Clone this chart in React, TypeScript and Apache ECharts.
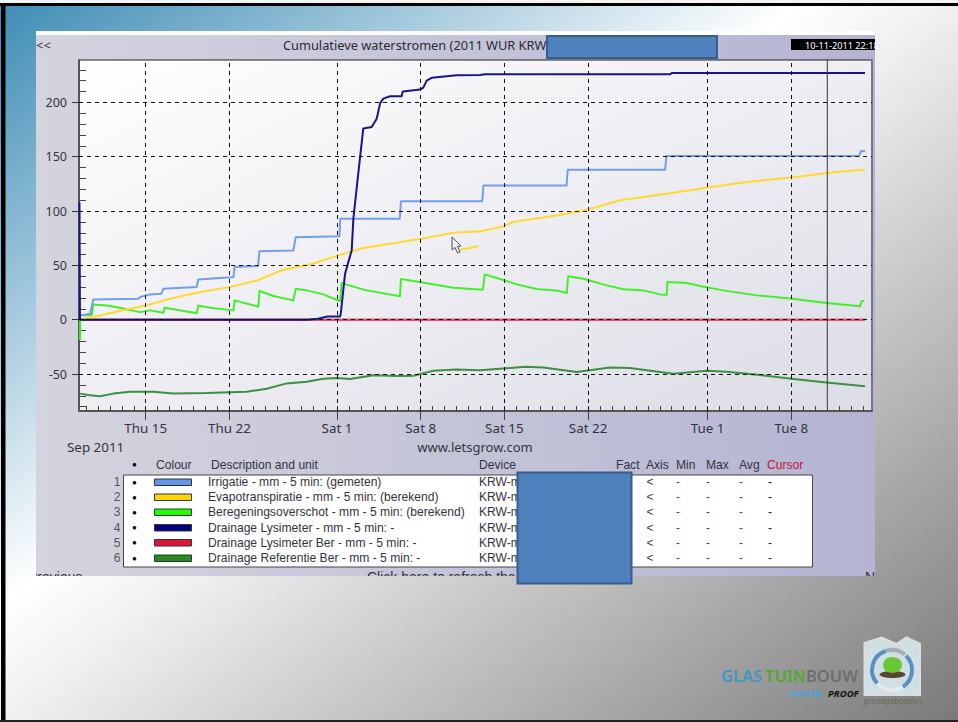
import React, { useEffect, useRef } from "react";
import * as echarts from "echarts";

const W = 958;
const H = 722;

// Days are counted from 1 Sep 2011 = day 1 (1 Oct = 31, 1 Nov = 62).
const X_MIN = 9.42;
const X_MAX = 75.75;
const Y_MIN = -84;
const Y_MAX = 239;

const xMajorDays = [15, 22, 31, 38, 45, 52, 62, 69];
const xMajorLabels = ["Thu 15", "Thu 22", "Sat 1", "Sat 8", "Sat 15", "Sat 22", "Tue 1", "Tue 8"];
const xMinorDays = Array.from({ length: 66 }, (_, i) => 10 + i);
const yMajor = [-50, 0, 50, 100, 150, 200];
const yMinor = [-80, -70, -60, -40, -30, -20, -10, 10, 20, 30, 40, 60, 70, 80, 90, 110, 120, 130, 140, 160, 170, 180, 190, 210, 220, 230];

const irrigatie = [
  [9.51, 4], [10.35, 5.5], [10.62, 18.7], [14.4, 19.3], [14.55, 21], [15.36, 23.3], [16.3, 24], [16.48, 28.5], [19.25, 30], [19.4, 37],
  [21.2, 38.3], [22.33, 39], [22.44, 48.5], [24.4, 49.4], [24.51, 63], [27.35, 63.6], [27.55, 76], [31.2, 76.7], [31.28, 93],
  [36.25, 93], [36.35, 109], [43.15, 109], [43.25, 123.4], [50.2, 123.4], [50.3, 138], [58.45, 138], [58.55, 150.7],
  [74.67, 150.7], [74.85, 155.3], [75.17, 155.3],
];
const evapotranspiratie = [
  [9.51, 0], [10.6, 2.5], [12.8, 8], [15, 13], [17.03, 19.3], [19.27, 24.8], [22, 30], [24.28, 36], [26.5, 46], [29, 51.5], [31.03, 59],
  [33.2, 66], [38.06, 74.5], [40.73, 80], [42.96, 81.4], [45, 86], [45.72, 90], [49.38, 96], [52, 101.4], [54.67, 110], [58.58, 116],
  [62.03, 121.6], [65.27, 126.8], [69.03, 130.8], [71.96, 135], [74.47, 137.5], [75.17, 137.7],
];
const evapotranspiratieCursor = [[41.29, 64.5], [42.13, 66], [42.82, 67.8]];
const beregeningsoverschot = [
  [9.51, -19], [9.51, 4], [10.48, 4], [10.62, 14], [11.74, 13], [12.85, 11], [13.69, 9], [14.53, 7], [15.36, 8.6], [16.48, 6.4], [16.56, 11],
  [17.59, 9.2], [19.27, 6], [19.4, 13], [20.38, 11], [22.33, 8.6], [22.44, 17.8], [24.42, 12], [24.51, 26.4], [25.68, 21.8], [27.35, 17.8],
  [27.55, 28.5], [28.47, 27], [29.86, 23.3], [31.25, 17], [31.39, 33.7], [32.5, 30], [33.48, 27], [36.27, 21.5], [36.35, 37.4], [37.39, 35.6],
  [38.78, 33], [40.73, 29.4], [43.2, 27.6], [43.36, 41.7], [44.78, 37], [46.03, 32.5], [47.7, 28.2], [49.51, 26.7], [50.22, 24.5], [50.33, 40],
  [51.6, 37.7], [53.56, 31.6], [54.95, 28], [56.62, 27], [58.02, 23.3], [58.58, 23], [58.63, 34.7], [60.25, 33.7], [61.37, 31], [63.31, 27],
  [66.11, 22.4], [68.89, 19.6], [71.96, 15.3], [74.75, 12.3], [74.89, 17.2], [75.11, 17.2],
];
const drainageLysimeter = [
  [9.46, 108], [9.5, 0], [28.5, 0], [29.4, 1], [30.2, 3], [31.25, 3], [31.31, 5], [31.67, 42], [32.23, 64], [32.37, 93], [32.78, 134.6],
  [33.2, 176], [33.9, 177.4], [34.32, 185], [34.6, 199], [34.87, 203.5], [35.44, 205.6], [36.41, 205.6], [36.5, 210], [37.94, 211.8], [38.22, 213.6],
  [38.5, 220], [38.92, 222.6], [41.01, 224.9], [42.96, 225.2], [43.38, 225.8], [58.88, 225.8], [59, 227], [75.17, 227],
];
const drainageLysimeterBer = [[9.42, 0], [75.17, 0]];
const drainageReferentieBer = [
  [9.51, -68], [10.34, -69.6], [11.18, -70.5], [12.3, -68], [13.69, -66.3], [15.64, -66.3], [17.31, -67.8], [20.1, -67.5], [23.45, -66.3],
  [25.12, -63.5], [26.79, -58.6], [28.47, -57], [29.86, -54.3], [30.97, -53.7], [32.09, -54.6], [34.04, -51.2], [35.99, -51.8], [37.39, -51.5],
  [39.06, -47], [41.01, -45.7], [42.96, -46.6], [44.91, -45], [46.73, -43.3], [48.26, -43.9], [51.05, -48.2], [53.84, -43.9], [55.51, -44.5],
  [59.13, -49.7], [61.93, -46.9], [63.6, -47.9], [66.39, -50.9], [69, -54.3], [71.96, -57.7], [75.17, -61.3],
];
const cursorLine = [[72.01, 239], [72.01, -79.3]];

const legendNames = [
  "Irrigatie - mm - 5 min: (gemeten)",
  "Evapotranspiratie - mm - 5 min: (berekend)",
  "Beregeningsoverschot - mm - 5 min: (berekend)",
  "Drainage Lysimeter - mm - 5 min: -",
  "Drainage Lysimeter Ber - mm - 5 min: -",
  "Drainage Referentie Ber - mm - 5 min: -",
];
const legendSwatches = ["#6495ed", "#ffd700", "#22ff00", "#000080", "#dc143c", "#228b22"];
const legendRowY = [482, 497, 512, 527.5, 542.5, 558];

const SANS = "'Noto Sans', sans-serif";
const ARIAL = "'Liberation Sans', Arial, sans-serif";
const INK = "#333340";

function slideFill() {
  const a = 1 / (2 * W);
  const b = 1 / (2 * H);
  const n = a * a + b * b;
  return new echarts.graphic.LinearGradient(
    0, 0, a / n, b / n,
    [
      { offset: 0, color: "#3d8cb5" },
      { offset: 0.42, color: "#ffffff" },
      { offset: 0.5, color: "#f0f0f0" },
      { offset: 1, color: "#7a7a7a" },
    ],
    true
  );
}

function txt(text: string, x: number, y: number, opts: any = {}) {
  const { fill = INK, font = `12.1px ${ARIAL}`, align = "left", z = 5 } = opts;
  return {
    type: "text",
    z,
    silent: true,
    style: { text, x, y, fill, font, align, verticalAlign: "middle" },
  };
}
function box(x: number, y: number, w: number, h: number, fill: any, z: number, stroke?: string, lineWidth = 0) {
  return { type: "rect", z, silent: true, shape: { x, y, width: w, height: h }, style: { fill, stroke, lineWidth } };
}

function buildGraphic() {
  const els: any[] = [];
  // slide
  els.push(box(0, 0, W, H, slideFill(), -20));
  // screenshot panel
  els.push(box(36, 31, 839, 5, "#ffffff", -19));
  els.push(box(36, 35, 839, 541, new echarts.graphic.LinearGradient(0, 0, 1, 0, [
    { offset: 0, color: "#d4d4de" },
    { offset: 1, color: "#b4b4d2" },
  ]), -19));

  els.push(txt("<<", 36, 45, { font: `13px ${SANS}` }));
  els.push(txt("Cumulatieve waterstromen (2011 WUR KRW", 283, 45, { font: `12.8px ${SANS}`, fill: "#2a2a33" }));
  els.push(box(791, 39, 84, 11, "#000000", 5));
  els.push(txt("10-11-2011 22:18", 805, 45, { font: `9.2px ${SANS}`, fill: "#ffffff", z: 6 }));

  els.push(txt("Sep 2011", 67, 447, { font: `13.4px ${SANS}` }));
  els.push(txt("www.letsgrow.com", 475, 447, { font: `13px ${SANS}`, align: "center" }));

  // legend header
  els.push(txt("●", 134.5, 464.5, { align: "center", font: `8px ${ARIAL}`, fill: "#000" }));
  els.push(txt("Colour", 156, 464.5));
  els.push(txt("Description and unit", 211, 464.5));
  els.push(txt("Device", 479, 464.5));
  els.push(txt("Fact", 616, 464.5));
  els.push(txt("Axis", 646, 464.5));
  els.push(txt("Min", 676, 464.5));
  els.push(txt("Max", 706, 464.5));
  els.push(txt("Avg", 739, 464.5));
  els.push(txt("Cursor", 767, 464.5, { fill: "#c0103a" }));

  // legend table
  els.push(box(123.5, 475, 689, 92, "#ffffff", 1, "#444444", 1));
  legendNames.forEach((name, i) => {
    const y = legendRowY[i];
    els.push(txt(String(i + 1), 120.5, y, { align: "right", fill: "#555" }));
    els.push(txt("●", 134.5, y, { align: "center", font: `8px ${ARIAL}`, fill: "#000" }));
    els.push(box(154.5, y - 3, 37, 6.5, legendSwatches[i], 5, "#333333", 1));
    els.push(txt(name, 208, y));
    els.push(txt("KRW-m", 479, y));
    els.push(txt("<", 650, y, { align: "center", fill: "#444" }));
    els.push(txt("-", 678, y, { align: "center", fill: "#c0103a" }));
    els.push(txt("-", 708, y, { align: "center", fill: "#c0103a" }));
    els.push(txt("-", 741, y, { align: "center", fill: "#c0103a" }));
    els.push(txt("-", 770, y, { align: "center", fill: "#222" }));
  });

  // clipped footer row of the screenshot
  const footFont = `14px ${ARIAL}`;
  els.push(txt("Previous", 28, 576.5, { font: footFont }));
  els.push(txt("Click here to refresh the", 367, 576.5, { font: footFont }));
  els.push(txt("N", 865, 576.5, { font: footFont }));

  // parts of the slide covering what the screenshot cuts off
  els.push(box(0, 576, W, 20, slideFill(), 50));
  els.push(box(0, 560, 36, 30, slideFill(), 50));
  els.push(box(875, 36, 30, 20, slideFill(), 50));
  els.push(box(875, 560, 30, 20, slideFill(), 50));

  // redactions
  els.push(box(547, 36, 170, 22, "#4f81bd", 60, "#385d8a", 2));
  els.push(box(517.5, 472.5, 114, 111, "#4f81bd", 60, "#385d8a", 2));

  // mouse arrow
  els.push({
    type: "polygon", z: 20, silent: true,
    shape: { points: [[452, 237], [452, 250], [455, 247.5], [457.5, 253], [460, 252], [457.5, 246.5], [461, 246]] },
    style: { fill: "#eeeeee", stroke: "#555555", lineWidth: 1 },
  });

  // frame
  els.push(box(0, 0, W, 3, "#f4f4f4", 70));
  els.push(box(0, 3, W, 3, "#000000", 71));
  els.push(box(1, 3, 4.5, H - 3, "#000000", 71));
  els.push(box(0, 720, W, 2, "#222222", 71));

  // logo
  const logoFont = `600 16.5px ${SANS}`;
  els.push(txt("GLAS", 721, 675, { font: logoFont, fill: "#3f97c2", z: 30 }));
  els.push(txt("TUIN", 765, 675, { font: logoFont, fill: "#57a632", z: 30 }));
  els.push(txt("BOUW", 806, 675, { font: logoFont, fill: "#6e6e6e", z: 30 }));
  els.push(txt("WATER", 789.5, 693, { font: `bold 9.5px ${SANS}`, fill: "#4aa5d6", z: 30 }));
  els.push(txt("PROOF", 828, 693, { font: `italic bold 9.5px ${SANS}`, fill: "#111111", z: 30 }));
  els.push({
    type: "polygon", z: 30, silent: true,
    shape: { points: [[864.5, 643], [881.5, 637.5], [896.5, 644], [906.5, 637.5], [920, 644], [920, 695], [864.5, 695]] },
    style: { fill: "#cfe0e5", stroke: "#dddddd", lineWidth: 2 },
  });
  els.push({ type: "arc", z: 31, silent: true, shape: { cx: 892, cy: 670, r: 20, startAngle: 2.4, endAngle: 4.4 }, style: { stroke: "#5b8fc0", fill: "none", lineWidth: 4 } });
  els.push({ type: "arc", z: 31, silent: true, shape: { cx: 892, cy: 670, r: 20, startAngle: -0.8, endAngle: 1.0 }, style: { stroke: "#5b8fc0", fill: "none", lineWidth: 4 } });
  els.push({ type: "arc", z: 31, silent: true, shape: { cx: 892, cy: 670, r: 20, startAngle: 4.4, endAngle: 5.4 }, style: { stroke: "#a8adb0", fill: "none", lineWidth: 4 } });
  els.push({ type: "arc", z: 31, silent: true, shape: { cx: 892, cy: 670, r: 20, startAngle: 1.0, endAngle: 2.4 }, style: { stroke: "#e4eaee", fill: "none", lineWidth: 4 } });
  els.push({ type: "ellipse", z: 32, silent: true, shape: { cx: 892.5, cy: 674.5, rx: 13, ry: 3.5 }, style: { fill: "#5a4630" } });
  els.push({ type: "ellipse", z: 33, silent: true, shape: { cx: 892.5, cy: 665, rx: 9.5, ry: 8 }, style: { fill: "#68c832" } });
  els.push(txt("grondgebonden", 892.5, 700, { font: `italic 8.2px ${SANS}`, fill: "#6a6a55", align: "center", z: 30 }));

  return els;
}

function lineSeries(name: string, data: number[][], color: string, width: number, extra: any = {}) {
  return {
    name,
    type: "line",
    data,
    showSymbol: false,
    symbol: "none",
    smooth: false,
    clip: true,
    silent: true,
    lineStyle: { color, width, join: "round" },
    ...extra,
  };
}

export default function App() {
  const ref = useRef<HTMLDivElement>(null);
  useEffect(() => {
    document.body.style.margin = "0";
    const chart = echarts.init(ref.current!, undefined, { renderer: "svg" });
    const dash = { color: "#111111", width: 1, type: [4, 4] as any };
    const yLabelFont = { fontFamily: "Noto Sans", fontSize: 12.5, color: INK };
    const xLabelFont = { fontFamily: "Noto Sans", fontSize: 13.4, color: INK };
    chart.setOption({
      animation: false,
      backgroundColor: "transparent",
      textStyle: { fontFamily: "Noto Sans" },
      grid: {
        left: 79,
        top: 60,
        width: 793,
        height: 351,
        show: true,
        borderWidth: 1,
        borderColor: "#222222",
        backgroundColor: new echarts.graphic.LinearGradient(0, 0, 1, 1, [
          { offset: 0, color: "#ffffff" },
          { offset: 1, color: "#dcdce6" },
        ]),
      },
      xAxis: [
        {
          type: "value", min: X_MIN, max: X_MAX, position: "bottom",
          splitLine: { show: false },
          axisLine: { show: true, onZero: false, lineStyle: { color: "#555555", width: 2 } },
          axisTick: { show: true, customValues: xMajorDays, length: 9, lineStyle: { color: "#444444", width: 1 } },
          axisLabel: {
            show: true, customValues: xMajorDays, margin: 10, ...xLabelFont,
            formatter: (v: number) => xMajorLabels[xMajorDays.indexOf(v)] ?? "",
          },
        },
        {
          type: "value", min: X_MIN, max: X_MAX, position: "bottom",
          splitLine: { show: false },
          axisLine: { show: false, onZero: false },
          axisTick: { show: true, inside: true, customValues: xMinorDays, length: 5, lineStyle: { color: "#444444", width: 1 } },
          axisLabel: { show: false },
        },
      ],
      yAxis: [
        {
          type: "value", min: Y_MIN, max: Y_MAX, position: "left",
          splitLine: { show: false },
          axisLine: { show: true, onZero: false, lineStyle: { color: "#555555", width: 2 } },
          axisTick: { show: true, customValues: yMajor, length: 7, lineStyle: { color: "#333333", width: 1 } },
          axisLabel: { show: true, customValues: yMajor, margin: 12, ...yLabelFont },
        },
        {
          type: "value", min: Y_MIN, max: Y_MAX, position: "left",
          splitLine: { show: false },
          axisLine: { show: false, onZero: false },
          axisTick: { show: true, inside: true, customValues: yMinor, length: 7, lineStyle: { color: "#444444", width: 1 } },
          axisLabel: { show: false },
        },
        {
          type: "value", min: Y_MIN, max: Y_MAX, position: "right",
          splitLine: { show: false },
          axisLine: { show: true, onZero: false, lineStyle: { color: "#777788", width: 2 } },
          axisTick: { show: false },
          axisLabel: { show: false },
        },
      ],
      series: [
        lineSeries("Drainage Lysimeter Ber", drainageLysimeterBer, "#e8506c", 2.5),
        lineSeries("Drainage Referentie Ber", drainageReferentieBer, "#3e8e44", 2),
        lineSeries("Beregeningsoverschot", beregeningsoverschot, "#44ee2a", 2),
        lineSeries("Evapotranspiratie", evapotranspiratie, "#ffd92e", 2),
        lineSeries("Evapotranspiratie (cursor)", evapotranspiratieCursor, "#ffd92e", 2),
        lineSeries("Irrigatie", irrigatie, "#729fe8", 2),
        lineSeries("Drainage Lysimeter", drainageLysimeter, "#16168a", 2),
        lineSeries("Cursor", cursorLine, "#333333", 1),
        {
          type: "line",
          name: "Grid",
          data: [],
          z: 6,
          silent: true,
          markLine: {
            silent: true,
            symbol: "none",
            animation: false,
            label: { show: false },
            lineStyle: dash,
            data: [
              ...xMajorDays.map((v) => ({ xAxis: v })),
              ...yMajor.map((v) => ({ yAxis: v })),
            ],
          },
        },
      ],
      graphic: { elements: buildGraphic() },
    });
    return () => chart.dispose();
  }, []);
  return <div ref={ref} style={{ position: "absolute", left: 0, top: 0, width: W, height: H, overflow: "hidden" }} />;
}
